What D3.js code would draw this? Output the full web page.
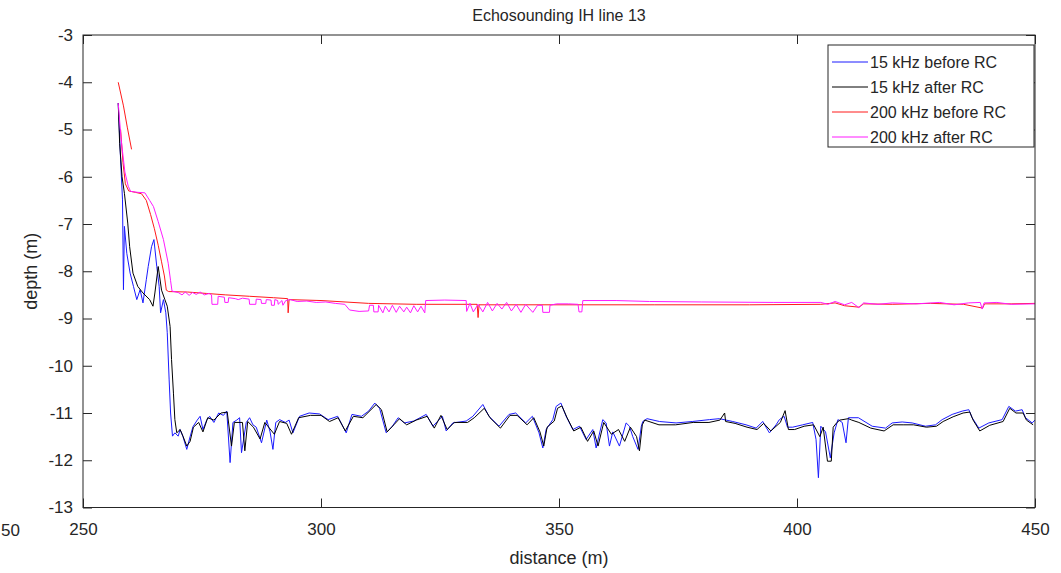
<!DOCTYPE html>
<html>
<head>
<meta charset="utf-8">
<script src="https://cdn.jsdelivr.net/npm/d3@7"></script>
<style>
    body { margin: 0; background: #fff; }
    svg text { font-family: "Liberation Sans", Arial, sans-serif; fill: #262626; }
</style>
</head>
<body>
<svg id="chart" width="1061" height="573"></svg>
<script>
// [distance (m), depth (m)]
const khz15Before = [
    [257.4, -4.44], [257.9, -5.64], [258.3, -6.49], [258.5, -8.39], [258.7, -7.05], [259.2, -7.62],
    [259.9, -8.04], [260.6, -8.32], [261.3, -8.6], [262, -8.39], [262.6, -8.67], [263.3, -8.18],
    [263.7, -7.9], [264.4, -7.48], [264.9, -7.33], [265.5, -7.9], [266, -8.32], [266.3, -8.88],
    [266.9, -8.6], [267.4, -8.88], [267.7, -9.3], [268.1, -10.3], [268.4, -11.0], [268.8, -11.49],
    [269.3, -11.42], [270, -11.49], [270.4, -11.35], [271, -11.5], [271.8, -11.77], [272.5, -11.5],
    [273.1, -11.29], [274, -11.15], [274.6, -11.07], [275.2, -11.35], [276, -11.15], [276.6, -11.07],
    [277.5, -11.2], [278.5, -11.0], [279.5, -11.05], [280.2, -10.96], [280.9, -12.05], [281.5, -11.2],
    [282.3, -11.15], [282.9, -11.1], [283.3, -11.84], [284.3, -11.2], [285, -11.1], [285.7, -11.25],
    [286.4, -11.3], [287.5, -11.63], [288.6, -11.15], [289.3, -11.4], [289.9, -11.77], [290.5, -11.2],
    [291.3, -11.14], [292.5, -11.2], [293.3, -11.15], [294.1, -11.42], [295.5, -11.07], [297.5, -11.0],
    [299.7, -11.02], [301.5, -11.14], [303.5, -11.07], [305.3, -11.42], [306.5, -11.03], [308.5, -11.07],
    [310, -10.96], [311.3, -10.79], [312.3, -10.9], [313.7, -11.42], [315, -11.28], [316.2, -11.1],
    [317.5, -11.21], [319.5, -11.17], [322.1, -11.03], [323.5, -11.28], [325.5, -11.07], [326.3, -11.38],
    [327.7, -11.21], [330.5, -11.17], [331.9, -11.07], [334, -10.82], [335.3, -11.07], [337.4, -11.28],
    [339.5, -11.03], [340.9, -11.0], [343, -11.21], [344.4, -11.07], [345.8, -11.42], [346.6, -11.74],
    [347.3, -11.35], [348.7, -11.14], [349.4, -10.86], [350.4, -10.79], [351.5, -11.07], [352.9, -11.35],
    [354.3, -11.28], [355.7, -11.56], [357.1, -11.35], [357.8, -11.74], [359.2, -11.14], [359.9, -11.21],
    [360.6, -11.7], [361.3, -11.4], [362.7, -11.7], [364.1, -11.21], [364.8, -11.28], [365.5, -11.5],
    [366.6, -11.77], [367.3, -11.28], [367.6, -11.18], [368.5, -11.12], [371.1, -11.18], [374.6, -11.21],
    [378, -11.18], [381.6, -11.14], [383.7, -11.12], [386.5, -11.18], [389.3, -11.25], [391.4, -11.32],
    [392.8, -11.18], [394.2, -11.42], [395.6, -11.25], [396.3, -11.14], [397.3, -11.07], [398, -11.3],
    [399.1, -11.3], [401.2, -11.25], [403.3, -11.2], [404, -11.56], [404.5, -12.37], [405, -11.28],
    [406, -11.4], [407, -11.95], [407.8, -11.42], [408.6, -11.14], [409.5, -11.2], [410.3, -11.63],
    [410.8, -11.1], [412.9, -11.1], [415.8, -11.28], [418.6, -11.32], [420, -11.21], [422.1, -11.19],
    [424.2, -11.21], [427, -11.28], [429.1, -11.25], [430.5, -11.14], [432.6, -11.03], [434.7, -10.96],
    [436.1, -10.93], [436.8, -11.1], [438.2, -11.32], [440.3, -11.21], [443.1, -11.14], [444.5, -10.86],
    [445.9, -10.96], [447.3, -10.93], [448, -11.1], [449.4, -11.21], [450, -11.15]
];

const khz15After = [
    [257.4, -4.44], [257.7, -5.3], [258.2, -6.0], [258.7, -6.35], [259.4, -6.98], [259.8, -7.48],
    [260.5, -8.04], [261.5, -8.32], [262.6, -8.46], [264, -8.6], [264.7, -8.74], [265.1, -8.46],
    [265.8, -7.9], [266.5, -8.4], [267.2, -8.6], [267.7, -8.74], [268.3, -9.17], [268.6, -9.87],
    [269, -10.58], [269.3, -11.14], [269.7, -11.42], [270.4, -11.35], [271, -11.49], [271.8, -11.7],
    [272.5, -11.6], [273.2, -11.3], [274.3, -11.2], [275.2, -11.4], [276.2, -11.1], [277.5, -11.15],
    [279, -11.0], [280.3, -10.98], [281.2, -11.7], [281.8, -11.2], [283.5, -11.2], [284, -11.8],
    [284.6, -11.18], [285.8, -11.3], [287.2, -11.55], [288.2, -11.2], [289, -11.3], [290.2, -11.45],
    [291.3, -11.18], [292.8, -11.22], [293.8, -11.45], [295.3, -11.1], [297.8, -11.05], [300, -11.05],
    [301.8, -11.18], [303.6, -11.1], [305.1, -11.38], [306.8, -11.07], [308.8, -11.1], [310.3, -10.95],
    [311.6, -10.82], [312.7, -10.93], [313.9, -11.4], [315.3, -11.25], [316.5, -11.12], [318, -11.25],
    [320, -11.15], [322.3, -11.07], [323.8, -11.32], [325.2, -11.05], [326.5, -11.35], [328, -11.2],
    [330.8, -11.2], [332.2, -11.1], [334.3, -10.9], [335.5, -11.1], [337.7, -11.32], [339.7, -11.05],
    [341.2, -11.05], [343.3, -11.25], [344.7, -11.1], [346, -11.4], [346.8, -11.7], [347.5, -11.3],
    [349, -11.17], [349.7, -10.9], [350.6, -10.85], [351.7, -11.1], [353.1, -11.38], [354.6, -11.3],
    [356, -11.6], [357.3, -11.38], [358.2, -11.7], [359.4, -11.2], [361, -11.45], [362.5, -11.35],
    [363.8, -11.6], [365, -11.3], [366.3, -11.5], [366.9, -11.8], [367.5, -11.25], [368, -11.15],
    [371, -11.25], [374.5, -11.25], [378.2, -11.2], [381.5, -11.2], [383.8, -11.15], [384.8, -11.0],
    [385, -11.18], [387, -11.22], [389.5, -11.3], [391.6, -11.35], [393, -11.22], [394.5, -11.38],
    [396.5, -11.2], [397.5, -10.95], [398.2, -11.35], [399.5, -11.35], [401.5, -11.28], [403.5, -11.25],
    [404.8, -11.5], [405.5, -11.3], [406.4, -12.02], [407.2, -12.02], [407.6, -11.3], [408.4, -11.2],
    [409, -11.15], [410.8, -11.12], [411.5, -11.15], [413, -11.2], [415.5, -11.32], [418.3, -11.38],
    [420.2, -11.25], [422.3, -11.25], [424.5, -11.25], [427.2, -11.3], [429.3, -11.28], [430.7, -11.18],
    [432.8, -11.08], [434.9, -11.0], [436.3, -10.98], [437, -11.15], [438.4, -11.38], [440.5, -11.26],
    [443.3, -11.18], [444.7, -10.9], [446, -11.0], [447.5, -11.0], [448.2, -11.15], [449.6, -11.25]
];

// null marks the break between the two pieces of the 200 kHz raw trace
const khz200Before = [
    [257.4, -4.0], [258.5, -4.5], [259.3, -4.95], [260.2, -5.42], null,
    [257.9, -5.0], [258.4, -5.7], [258.9, -6.15], [259.6, -6.3], [261, -6.33], [262.3, -6.36],
    [263.3, -6.5], [264.2, -6.8], [265, -7.1], [265.8, -7.45], [266.5, -7.8], [267.1, -8.1],
    [267.5, -8.4], [268, -8.43], [272, -8.44], [276, -8.47], [280, -8.5], [285, -8.53],
    [290, -8.56], [293, -8.58], [293.1, -8.88], [293.3, -8.6], [300, -8.62], [310, -8.68],
    [320, -8.7], [332.8, -8.7], [333, -8.98], [333.2, -8.71], [350, -8.71], [370, -8.71],
    [390, -8.71], [405, -8.7], [408, -8.67], [410, -8.73], [413, -8.76], [414, -8.69],
    [420, -8.7], [428, -8.68], [435, -8.7], [439, -8.78], [439.4, -8.69], [445, -8.69], [450, -8.68]
];

const khz200After = [
    [257.4, -4.44], [258, -5.2], [258.8, -5.9], [259.5, -6.2], [260, -6.31], [261.5, -6.33],
    [263, -6.34], [264, -6.5], [264.8, -6.63], [265.8, -6.95], [266.9, -7.33], [267.9, -7.83],
    [268.4, -8.2], [268.7, -8.42], [270, -8.45], [270.8, -8.5], [271.5, -8.44], [272.3, -8.51],
    [273, -8.45], [273.8, -8.49], [274.6, -8.44], [275.5, -8.5], [276.5, -8.47], [277, -8.5],
    [277.1, -8.7], [278.3, -8.7], [278.4, -8.53], [279.7, -8.55], [279.8, -8.66], [280.5, -8.66],
    [280.6, -8.56], [282, -8.58], [282.6, -8.6], [283.5, -8.57], [284.9, -8.59], [285, -8.7],
    [286.3, -8.7], [286.4, -8.59], [287.4, -8.6], [287.5, -8.68], [288.4, -8.68], [288.5, -8.6],
    [289.5, -8.61], [289.6, -8.72], [290.2, -8.72], [290.3, -8.6], [290.9, -8.62], [291, -8.7],
    [291.8, -8.62], [292, -8.72], [292.6, -8.62], [293.5, -8.6], [295, -8.64], [297, -8.63],
    [299, -8.66], [301, -8.65], [303, -8.68], [305, -8.7], [306, -8.82], [308, -8.85],
    [310, -8.84], [310.2, -8.72], [311, -8.72], [311.1, -8.86], [312, -8.86], [312.1, -8.72],
    [313, -8.88], [313.5, -8.74], [314.3, -8.86], [315, -8.72], [315.8, -8.87], [316.5, -8.74],
    [317.4, -8.86], [318, -8.76], [318.8, -8.88], [319.5, -8.73], [320.3, -8.86], [321, -8.74],
    [321.8, -8.88], [322, -8.62], [326, -8.61], [330.5, -8.62], [330.6, -8.85], [331.3, -8.68],
    [332, -8.86], [333, -8.7], [334, -8.86], [335, -8.66], [336, -8.84], [337, -8.68],
    [338, -8.8], [339, -8.66], [340, -8.84], [341, -8.7], [342, -8.87], [343, -8.7],
    [344.5, -8.87], [345.5, -8.72], [346.5, -8.72], [346.6, -8.87], [348, -8.87], [348.1, -8.72],
    [349.5, -8.69], [352, -8.69], [354, -8.7], [354.2, -8.86], [354.8, -8.86], [355, -8.62],
    [362, -8.62], [369, -8.64], [380, -8.65], [395, -8.66], [405, -8.66], [406.5, -8.7],
    [408, -8.64], [410, -8.71], [411.5, -8.66], [413, -8.77], [414, -8.67], [417, -8.7],
    [420, -8.67], [425, -8.69], [430, -8.66], [433, -8.71], [436, -8.67], [438.5, -8.66],
    [438.9, -8.8], [439.3, -8.67], [442, -8.66], [445, -8.7], [450, -8.69]
];

const seriesNames = ["15 kHz before RC", "15 kHz after RC", "200 kHz before RC", "200 kHz after RC"];
const seriesColors = ["#1a1aff", "#000000", "#ff1a1a", "#ff1aff"];
const seriesData = [khz15Before, khz15After, khz200Before, khz200After];

const xTicks = [250, 300, 350, 400, 450];
const yTicks = [-13, -12, -11, -10, -9, -8, -7, -6, -5, -4, -3];

const margin = { top: 35, right: 25, bottom: 65, left: 83 };
const width = 1061, height = 573;

const svg = d3.select("#chart");

const x = d3.scaleLinear().domain([250, 450]).range([margin.left, width - margin.right - 1]);
const y = d3.scaleLinear().domain([-13, -3]).range([height - margin.bottom - 0.5, margin.top]);

const axisColor = "#262626";
const plainNumber = d => `${d}`;   // hyphen minus like the original, not U+2212

function styleAxis(g) {
    g.select(".domain").remove();
    g.selectAll(".tick line").attr("stroke", axisColor);
    g.selectAll(".tick text").style("font-size", "17px").attr("fill", axisColor);
}

// bottom / left with labels, ticks pointing inwards
svg.append("g")
    .attr("transform", `translate(0,${y(-13)})`)
    .call(d3.axisBottom(x).tickValues(xTicks).tickFormat(plainNumber)
        .tickSizeInner(-9).tickSizeOuter(0).tickPadding(15))
    .call(styleAxis);

svg.append("g")
    .attr("transform", `translate(${x(250)},0)`)
    .call(d3.axisLeft(y).tickValues(yTicks).tickFormat(plainNumber)
        .tickSizeInner(-9).tickSizeOuter(0).tickPadding(10))
    .call(styleAxis);

// top / right mirrored ticks, no labels
svg.append("g")
    .attr("transform", `translate(0,${y(-3)})`)
    .call(d3.axisTop(x).tickValues(xTicks).tickSizeInner(-9).tickSizeOuter(0).tickFormat(""))
    .call(styleAxis);

svg.append("g")
    .attr("transform", `translate(${x(450)},0)`)
    .call(d3.axisRight(y).tickValues(yTicks).tickSizeInner(-9).tickSizeOuter(0).tickFormat(""))
    .call(styleAxis);

svg.append("clipPath").attr("id", "plot-clip")
    .append("rect")
    .attr("x", x(250)).attr("y", y(-3))
    .attr("width", x(450) - x(250)).attr("height", y(-13) - y(-3));

const line = d3.line()
    .defined(d => d !== null)
    .x(d => x(d[0]))
    .y(d => y(d[1]));

svg.append("g")
    .attr("clip-path", "url(#plot-clip)")
    .selectAll("path")
    .data(seriesData)
    .join("path")
    .attr("d", line)
    .attr("fill", "none")
    .attr("stroke", (d, i) => seriesColors[i])
    .attr("stroke-width", 1)
    .attr("stroke-linejoin", "round");

// box
svg.append("rect")
    .attr("x", x(250)).attr("y", y(-3))
    .attr("width", x(450) - x(250)).attr("height", y(-13) - y(-3))
    .attr("fill", "none")
    .attr("stroke", axisColor)
    .attr("stroke-width", 1);

// titles
svg.append("text")
    .attr("x", (x(250) + x(450)) / 2).attr("y", 21)
    .attr("text-anchor", "middle")
    .style("font-size", "16px")
    .text("Echosounding IH line 13");

svg.append("text")
    .attr("x", (x(250) + x(450)) / 2).attr("y", 564)
    .attr("text-anchor", "middle")
    .style("font-size", "18px")
    .text("distance (m)");

svg.append("text")
    .attr("transform", `translate(37,${(y(-3) + y(-13)) / 2}) rotate(-90)`)
    .attr("text-anchor", "middle")
    .style("font-size", "18px")
    .text("depth (m)");

// leftover tick label of the neighbouring panel at the page edge
svg.append("text")
    .attr("x", 1).attr("y", 536)
    .style("font-size", "17px")
    .text("50");

// legend
const legend = svg.append("g").attr("transform", "translate(828,45)");

legend.append("rect")
    .attr("width", 206).attr("height", 102)
    .attr("fill", "#fff")
    .attr("stroke", axisColor)
    .attr("stroke-width", 1);

const rows = legend.selectAll("g.row")
    .data(seriesNames)
    .join("g")
    .attr("class", "row")
    .attr("transform", (d, i) => `translate(0,${17 + i * 25})`);

rows.append("line")
    .attr("x1", 4).attr("x2", 40)
    .attr("stroke", (d, i) => seriesColors[i])
    .attr("stroke-width", 1);

rows.append("text")
    .attr("x", 42).attr("dy", "0.35em")
    .style("font-size", "16px")
    .attr("fill", "#000")
    .text(d => d);
</script>
</body>
</html>
